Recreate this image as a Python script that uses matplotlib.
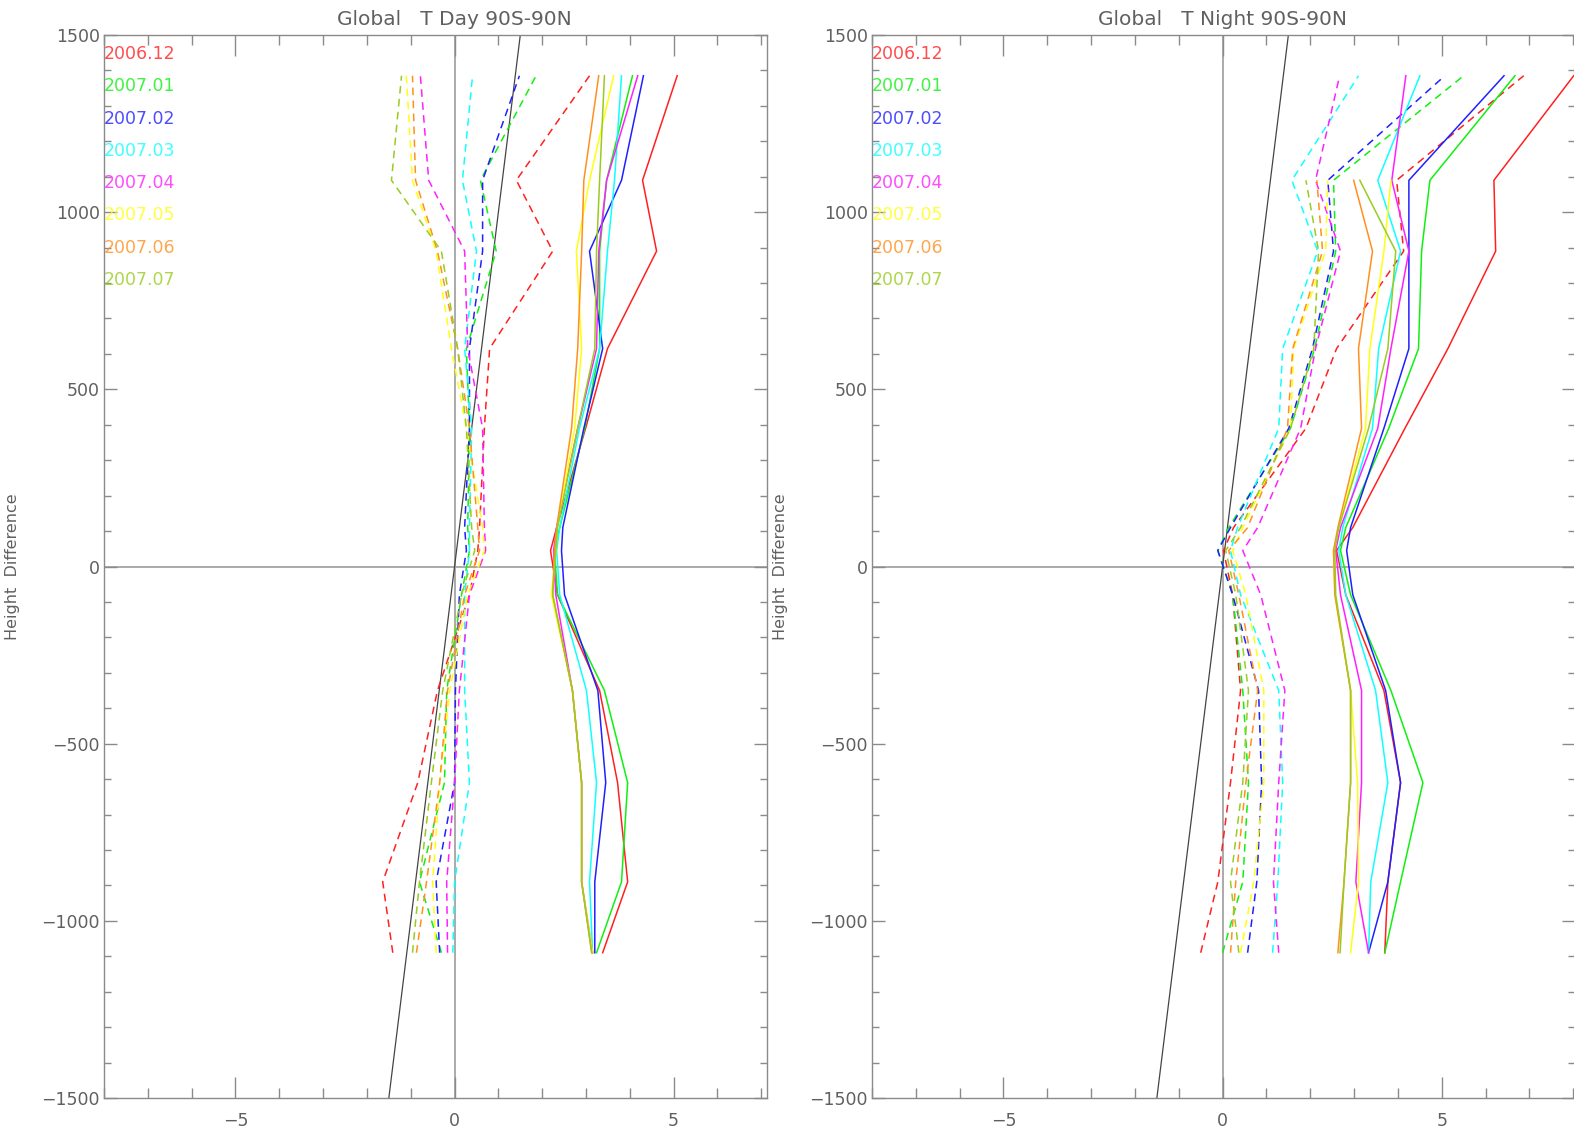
import numpy as np
import matplotlib
matplotlib.use('Agg')
import matplotlib.pyplot as plt
from matplotlib.ticker import MultipleLocator

# mean height of each level (bottom -> top)
levels = [-1090, -890, -610, -350, -80, 45, 110, 390, 615, 890, 1090, 1385]

months = ['2006.12', '2007.01', '2007.02', '2007.03',
          '2007.04', '2007.05', '2007.06', '2007.07']
colors = ['#ff2020', '#10f010', '#2020ff', '#10ffff',
          '#ff20ff', '#ffff10', '#ff9020', '#99cc22']

# T Day, solid lines (one row per month)
day_solid = [
    [3.38, 3.95, 3.72, 3.31, 2.35, 2.19, 2.33, 2.99, 3.49, 4.61, 4.29, 5.08],
    [3.24, 3.81, 3.95, 3.42, 2.35, 2.28, 2.40, 2.97, 3.31, 3.31, 3.47, 4.06],
    [3.20, 3.20, 3.45, 3.27, 2.51, 2.44, 2.47, 2.95, 3.38, 3.08, 3.81, 4.31],
    [3.15, 3.08, 3.24, 3.01, 2.40, 2.33, 2.40, 2.85, 3.31, 3.49, 3.65, 3.81],
    [3.15, 2.90, 2.90, 2.69, 2.31, 2.26, 2.33, 2.81, 3.24, 3.29, 3.47, 4.18],
    [3.15, 2.90, 2.90, 2.69, 2.21, 2.31, 2.35, 2.74, 2.90, 2.78, 3.08, 3.63],
    [3.13, 2.90, 2.90, 2.69, 2.24, 2.28, 2.33, 2.67, 2.81, 2.90, 2.95, 3.29],
    [3.13, 2.90, 2.90, 2.69, 2.24, 2.31, 2.35, 2.81, 3.20, 3.24, 3.31, 3.42],
]

# T Day, dashed lines
day_dashed = [
    [-1.41, -1.64, -0.84, -0.39, 0.34, 0.53, 0.57, 0.68, 0.80, 2.24, 1.41, 3.08],
    [-0.30, -0.80, -0.23, -0.18, 0.16, 0.34, 0.30, 0.34, 0.27, 0.95, 0.59, 1.86],
    [-0.34, -0.42, 0.00, 0.02, 0.11, 0.27, 0.23, 0.34, 0.34, 0.64, 0.64, 1.48],
    [-0.04, 0.00, 0.34, 0.23, 0.23, 0.34, 0.34, 0.39, 0.23, 0.50, 0.18, 0.41],
    [-0.16, -0.18, 0.00, 0.11, 0.34, 0.71, 0.68, 0.64, 0.30, 0.23, -0.59, -0.78],
    [-0.42, -0.50, -0.34, -0.11, 0.30, 0.68, 0.64, 0.27, -0.07, -0.42, -0.96, -1.10],
    [-0.87, -0.64, -0.34, -0.16, 0.23, 0.57, 0.53, 0.34, 0.07, -0.39, -0.89, -0.96],
    [-0.96, -0.80, -0.53, -0.27, 0.16, 0.46, 0.39, 0.27, 0.07, -0.30, -1.44, -1.21],
]

# T Night, solid lines
night_solid = [
    [3.70, 3.77, 4.06, 3.68, 2.81, 2.60, 2.97, 4.16, 5.14, 6.23, 6.19, 8.01],
    [3.70, 4.06, 4.57, 3.84, 2.92, 2.69, 2.81, 3.79, 4.47, 4.54, 4.73, 6.67],
    [3.33, 3.77, 4.06, 3.72, 2.97, 2.83, 2.92, 3.68, 4.25, 4.25, 4.25, 6.42],
    [3.33, 3.38, 3.77, 3.49, 2.81, 2.65, 2.74, 3.42, 3.56, 4.06, 3.54, 4.50],
    [3.33, 3.04, 3.17, 3.17, 2.69, 2.58, 2.69, 3.54, 3.84, 4.25, 3.86, 4.18],
    [2.92, 3.10, 3.08, 2.92, 2.56, 2.53, 2.65, 3.26, 3.36, 3.68, 3.84, np.nan],
    [2.63, 2.77, 2.92, 2.92, 2.56, 2.53, 2.63, 3.17, 3.10, 3.42, 2.99, np.nan],
    [2.68, 2.77, 2.92, 2.92, 2.58, 2.56, 2.65, 3.33, 3.77, 3.95, 3.13, np.nan],
]

# T Night, dashed lines
night_dashed = [
    [-0.50, -0.11, 0.18, 0.41, 0.23, 0.02, 0.25, 1.90, 2.60, 4.13, 3.97, 6.87],
    [0.00, 0.46, 0.59, 0.46, 0.23, -0.11, 0.14, 1.55, 2.10, 2.58, 2.53, 5.50],
    [0.57, 0.78, 0.89, 0.82, 0.23, -0.11, 0.18, 1.51, 2.05, 2.53, 2.40, 5.07],
    [1.14, 1.26, 1.37, 1.28, 0.41, 0.18, 0.34, 1.28, 1.37, 2.17, 1.58, 3.10],
    [1.28, 1.16, 1.28, 1.42, 0.87, 0.46, 0.80, 1.78, 2.12, 2.69, 2.12, 2.67],
    [0.41, 0.71, 0.94, 0.94, 0.53, 0.23, 0.46, 1.55, 1.62, 2.35, 2.40, np.nan],
    [0.18, 0.30, 0.53, 0.80, 0.37, 0.14, 0.57, 1.48, 1.60, 2.28, 2.15, np.nan],
    [0.37, 0.18, 0.46, 0.59, 0.30, 0.07, 0.41, 1.55, 2.08, 2.19, 1.90, np.nan],
]

W, H = 1574, 1135
AX_COLOR = '#8a8a8a'
TXT_COLOR = '#606060'


def draw_panel(ax, title, solid, dashed, xmax):
    ax.set_xlim(-8, xmax)
    ax.set_ylim(-1500, 1500)

    # reference lines
    ax.axhline(0, color='#aaaaaa', lw=1.4, zorder=1)
    ax.axvline(0, color='#aaaaaa', lw=1.4, zorder=1)
    yy = np.array([-1500, 1500])
    ax.plot(yy / 1000.0, yy, color='#444444', lw=0.9, zorder=2)

    for i in range(len(months)):
        ax.plot(dashed[i], levels, color=colors[i], lw=1.1,
                dashes=(5, 3.5), zorder=3)
        ax.plot(solid[i], levels, color=colors[i], lw=1.1, zorder=3)

    # month labels in the upper left corner
    for i, m in enumerate(months):
        ypix = 54 + i * 32.3
        ax.text(0.0, (1098 - ypix) / 1063.0, m, transform=ax.transAxes,
                color=colors[i], fontsize=12.5, ha='left', va='center',
                alpha=0.8)

    # title is centred over x = 0
    ax.text(0.0, 1500 + 15 / 0.3527, title,
            ha='center', va='center', fontsize=14.5, color=TXT_COLOR,
            clip_on=False)
    ax.set_ylabel('Height  Difference', fontsize=11.5, color=TXT_COLOR,
                  labelpad=0)

    # IDL style ticks
    ax.xaxis.set_major_locator(MultipleLocator(5))
    ax.xaxis.set_minor_locator(MultipleLocator(1))
    ax.yaxis.set_major_locator(MultipleLocator(500))
    ax.yaxis.set_minor_locator(MultipleLocator(100))
    ax.tick_params(which='both', direction='in', top=True, right=True,
                   color=AX_COLOR, width=1, labelcolor=TXT_COLOR,
                   labelsize=12.5)
    ax.tick_params(axis='x', which='major', length=15, pad=10)
    ax.tick_params(axis='x', which='minor', length=7.5)
    ax.tick_params(axis='y', which='major', length=9.5, pad=3)
    ax.tick_params(axis='y', which='minor', length=4.7)
    for s in ax.spines.values():
        s.set_color(AX_COLOR)
        s.set_linewidth(1.0)


fig = plt.figure(figsize=(W / 100, H / 100), dpi=100)
ax1 = fig.add_axes([104 / W, 37 / H, 663 / W, 1063 / H])
ax2 = fig.add_axes([872 / W, 37 / H, 703 / W, 1063 / H])

draw_panel(ax1, 'Global   T Day 90S-90N', day_solid, day_dashed, 7.13)
draw_panel(ax2, 'Global   T Night 90S-90N', night_solid, night_dashed, 8.04)

ax1.yaxis.set_label_coords(-0.127, 0.5)
ax2.yaxis.set_label_coords(-0.12, 0.5)

fig.savefig('out.png', dpi=100)
